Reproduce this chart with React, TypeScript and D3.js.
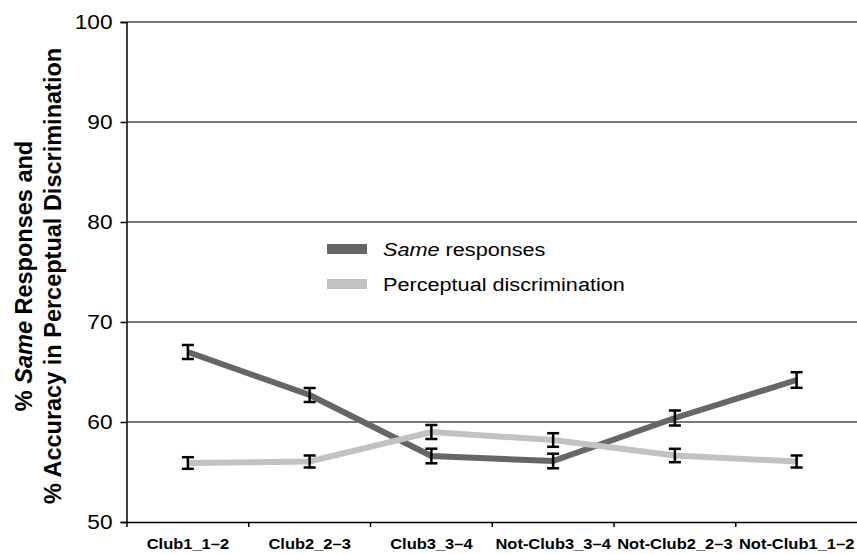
import React, { useRef, useEffect } from 'react';
import * as d3 from 'd3';

const categories = ['Club1_1\u20132', 'Club2_2\u20133', 'Club3_3\u20134', 'Not-Club3_3\u20134', 'Not-Club2_2\u20133', 'Not-Club1_1\u20132'];
const sameValues = [67.0, 62.7, 56.6, 56.1, 60.4, 64.2];
const sameErrors = [0.7, 0.7, 0.73, 0.73, 0.75, 0.78];
const percValues = [55.9, 56.05, 59.0, 58.2, 56.65, 56.05];
const percErrors = [0.58, 0.6, 0.7, 0.68, 0.67, 0.6];
const yTicks = [50, 60, 70, 80, 90, 100];
const gridTicks = [60, 70, 80, 90, 100];

const W = 857;
const H = 554;
const FONT = '"Liberation Sans", Arial, Helvetica, sans-serif';

const App = () => {
  const svgRef = useRef<SVGSVGElement | null>(null);

  useEffect(() => {
    const svg = d3.select(svgRef.current);
    svg.selectAll('*').remove();

    const x = d3.scaleBand<string>().domain(categories).range([127, 857.5]);
    const y = d3.scaleLinear().domain([50, 100]).range([522, 22]);
    const cx = (i: number) => (x(categories[i]) as number) + x.bandwidth() / 2;

    // gridlines
    svg.append('g').selectAll('line')
      .data(gridTicks)
      .join('line')
      .attr('x1', 127).attr('x2', 857)
      .attr('y1', d => y(d)).attr('y2', d => y(d))
      .attr('stroke', '#4d4d4d').attr('stroke-width', 1.5);

    // y axis
    const yAxis = svg.append('g')
      .attr('transform', 'translate(126.5,0)')
      .call(d3.axisLeft(y).tickValues(yTicks).tickSize(6).tickPadding(8));
    yAxis.select('.domain').attr('stroke', '#000').attr('stroke-width', 1.5);
    yAxis.selectAll('.tick line').attr('stroke', '#000').attr('stroke-width', 1.5);
    yAxis.selectAll('.tick text')
      .attr('font-family', FONT).attr('font-size', 21).attr('fill', '#000')
      .attr('transform', 'scale(1.08,1)')
      .attr('x', -14 / 1.08);

    // x axis
    const xAxis = svg.append('g')
      .attr('transform', 'translate(0,522)')
      .call(d3.axisBottom(x).tickSize(0).tickPadding(16));
    xAxis.select('.domain').attr('stroke', '#000').attr('stroke-width', 1.5);
    xAxis.selectAll('.tick text')
      .attr('font-family', FONT).attr('font-size', 15).attr('font-weight', 'bold').attr('fill', '#000')
      .attr('transform', 'scale(1.1,1)');
    svg.append('g').selectAll('line')
      .data(categories.map(c => x(c) as number))
      .join('line')
      .attr('x1', d => d).attr('x2', d => d)
      .attr('y1', 522).attr('y2', 527)
      .attr('stroke', '#000').attr('stroke-width', 1.5);

    const line = d3.line<number>().x((_, i) => cx(i)).y(d => y(d));

    const series = [
      { values: sameValues, errors: sameErrors, color: '#666666' },
      { values: percValues, errors: percErrors, color: '#c2c2c2' },
    ];

    series.forEach(s => {
      svg.append('path')
        .datum(s.values)
        .attr('d', line)
        .attr('fill', 'none')
        .attr('stroke', s.color)
        .attr('stroke-width', 6);
    });

    series.forEach(s => {
      const g = svg.append('g').attr('stroke', '#000').attr('stroke-width', 2.5);
      s.values.forEach((v, i) => {
        const x0 = cx(i);
        const top = y(v + s.errors[i]);
        const bot = y(v - s.errors[i]);
        g.append('line').attr('x1', x0).attr('x2', x0).attr('y1', top).attr('y2', bot);
        g.append('line').attr('x1', x0 - 6).attr('x2', x0 + 6).attr('y1', top).attr('y2', top);
        g.append('line').attr('x1', x0 - 6).attr('x2', x0 + 6).attr('y1', bot).attr('y2', bot);
      });
    });

    // legend
    const legend = svg.append('g').attr('font-family', FONT).attr('font-size', 19);
    const items = [
      { label: ['Same', ' responses'], color: '#666666' },
      { label: ['', 'Perceptual discrimination'], color: '#c2c2c2' },
    ];
    items.forEach((it, i) => {
      const ly = 249 + i * 35;
      legend.append('rect')
        .attr('x', 327).attr('y', ly - 5).attr('width', 40).attr('height', 10)
        .attr('fill', it.color);
      const t = legend.append('text')
        .attr('transform', `translate(383,${ly + 7}) scale(1.14,1)`)
        .attr('fill', '#000');
      if (it.label[0]) t.append('tspan').attr('font-style', 'italic').text(it.label[0]);
      t.append('tspan').text(it.label[1]);
    });

    // y title
    const title = svg.append('text')
      .attr('transform', 'translate(32,276) rotate(-90)')
      .attr('text-anchor', 'middle')
      .attr('font-family', FONT).attr('font-size', 23.5).attr('font-weight', 'bold')
      .attr('fill', '#000');
    const l1 = title.append('tspan').attr('x', 0).attr('dy', 0);
    l1.append('tspan').text('% ');
    l1.append('tspan').attr('font-style', 'italic').text('Same');
    l1.append('tspan').text(' Responses and');
    title.append('tspan').attr('x', 0).attr('dy', 29).text('% Accuracy in Perceptual Discrimination');
  }, []);

  return (
    <svg
      ref={svgRef}
      width={W}
      height={H}
      style={{ position: 'absolute', left: 0, top: 0, background: '#fff' }}
    />
  );
};

export default App;
